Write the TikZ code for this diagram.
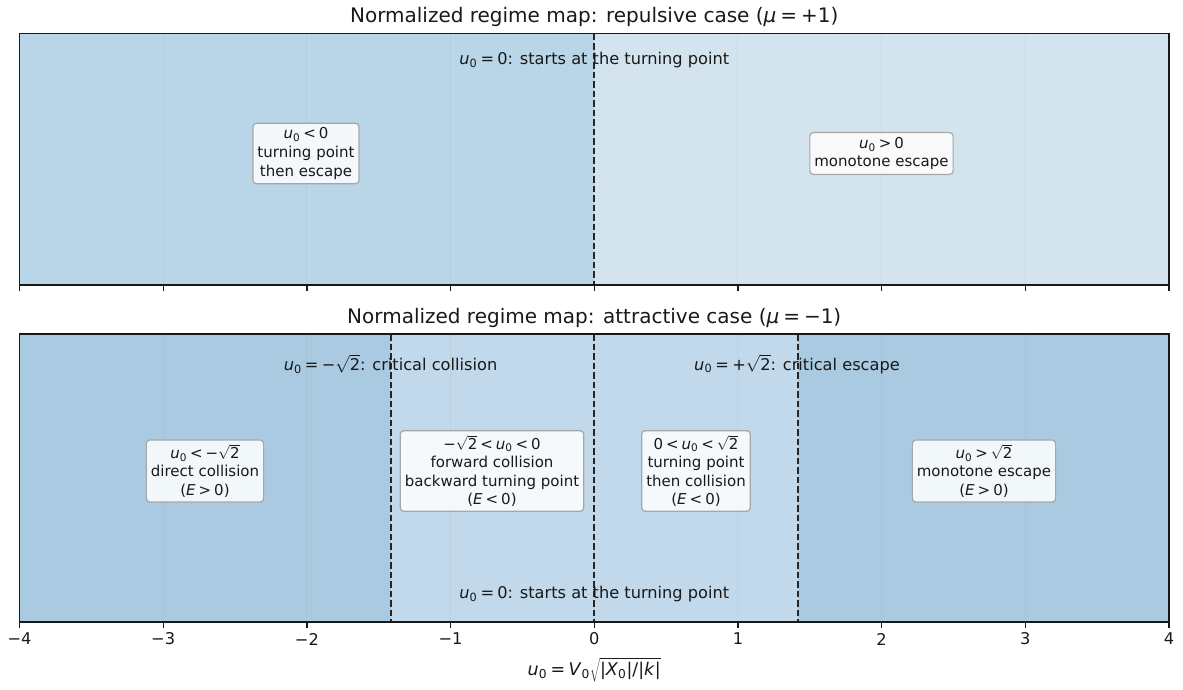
\documentclass[tikz,border=0pt]{standalone}
\usepackage{fontspec}
\setmainfont{DejaVu Sans}
\newcommand\uz{\textit{u}\textsubscript{0}}
\newcommand\vz{\textit{V}\textsubscript{0}}
\newcommand\xz{\textit{X}\textsubscript{0}}
\newcommand\sqtwo{$\sqrt{\mbox{2}}$}
\newcommand\rl[1]{\hspace{0.2em}#1\hspace{0.2em}}
\definecolor{topL}{HTML}{B9D5E8}
\definecolor{topR}{HTML}{D3E4EF}
\definecolor{botO}{HTML}{A9CAE1}
\definecolor{botI}{HTML}{C1D9EB}
\begin{document}
\begin{tikzpicture}[x=1pt,y=-1pt,
  title/.style={font=\fontsize{20}{24}\selectfont, text=black!90},
  annot/.style={font=\fontsize{16.2}{19}\selectfont, text=black!90},
  ticklab/.style={font=\fontsize{16.2}{19}\selectfont, text=black!90},
  regbox/.style={draw=black!35, fill=white, fill opacity=0.85, text opacity=1,
    rounded corners=3.5pt, align=center, font=\fontsize{15}{18.6}\selectfont,
    inner xsep=4.5pt, inner ysep=4.5pt, line width=1.2pt, text=black!90},
  gridln/.style={black!40, opacity=0.13, line width=1pt},
  divider/.style={black!85, line width=2pt, dash pattern=on 6.5pt off 3pt},
  spine/.style={black!90, line width=1.3pt},
  tickmk/.style={black!90, line width=1.3pt}
]
\useasboundingbox (0,0) rectangle (1183,689);
% ---------------- top axes ----------------
\fill[topL] (19.5,33.5) rectangle (594.25,285);
\fill[topR] (594.25,33.5) rectangle (1169,285);
\foreach \u in {-3,...,3} {
  \draw[gridln] ({594.25+143.69*\u},33.5) -- ({594.25+143.69*\u},285);
}
\draw[divider] (594.25,33.5) -- (594.25,285);
\draw[spine] (19.5,33.5) rectangle (1169,285);
\foreach \u in {-4,...,4} {
  \draw[tickmk] ({594.25+143.69*\u},285) -- ({594.25+143.69*\u},291);
}
\node[title] (t1) at (594.25,17) {Normalized regime map: repulsive case (\textit{μ}\rl{=}+1)};
\node[annot] (a1) at (594.25,60) {\uz\rl{=}0: starts at the turning point};
\node[regbox] (b1) at (306,153.5) {\uz\rl{<}0\\turning point\\then escape};
\node[regbox] (b2) at (881.5,153.5) {\uz\rl{>}0\\monotone escape};
% ---------------- bottom axes ----------------
\fill[botO] (19.5,334) rectangle (391,622);
\fill[botI] (391,334) rectangle (797.5,622);
\fill[botO] (797.5,334) rectangle (1169,622);
\foreach \u in {-3,...,3} {
  \draw[gridln] ({594.25+143.69*\u},334) -- ({594.25+143.69*\u},622);
}
\draw[divider] (391,334) -- (391,622);
\draw[divider] (594.25,334) -- (594.25,622);
\draw[divider] (797.5,334) -- (797.5,622);
\draw[spine] (19.5,334) rectangle (1169,622);
\foreach \u/\lab in {-4/−4,-3/−3,-2/−2,-1/−1,0/0,1/1,2/2,3/3,4/4} {
  \draw[tickmk] ({594.25+143.69*\u},622) -- ({594.25+143.69*\u},628);
  \node[ticklab] (tl\u) at ({594.25+143.69*\u},639) {\lab};
}
\node[title] (t2) at (594.25,318) {Normalized regime map: attractive case (\textit{μ}\rl{=}−1)};
\node[annot] (a2) at (390.5,364) {\uz\rl{=}−\sqtwo: critical collision};
\node[annot] (a3) at (797,364) {\uz\rl{=}+\sqtwo: critical escape};
\node[annot] (a4) at (594.25,594) {\uz\rl{=}0: starts at the turning point};
\node[regbox] (c1) at (205,471) {\uz\rl{<}−\sqtwo\\direct collision\\(\textit{E}\rl{>}0)};
\node[regbox] (c2) at (492,471) {−\sqtwo\rl{<}\uz\rl{<}0\\forward collision\\backward turning point\\(\textit{E}\rl{<}0)};
\node[regbox] (c3) at (696,471) {0\rl{<}\uz\rl{<}\sqtwo\\turning point\\then collision\\(\textit{E}\rl{<}0)};
\node[regbox] (c4) at (984,471) {\uz\rl{>}\sqtwo\\monotone escape\\(\textit{E}\rl{>}0)};
\node[font=\fontsize{17.5}{20}\selectfont, text=black!90] (xl) at (594.25,670) {\uz\rl{=}\vz$\sqrt{\mbox{|\xz|/|\textit{k}|}}$};
\end{tikzpicture}
\end{document}
